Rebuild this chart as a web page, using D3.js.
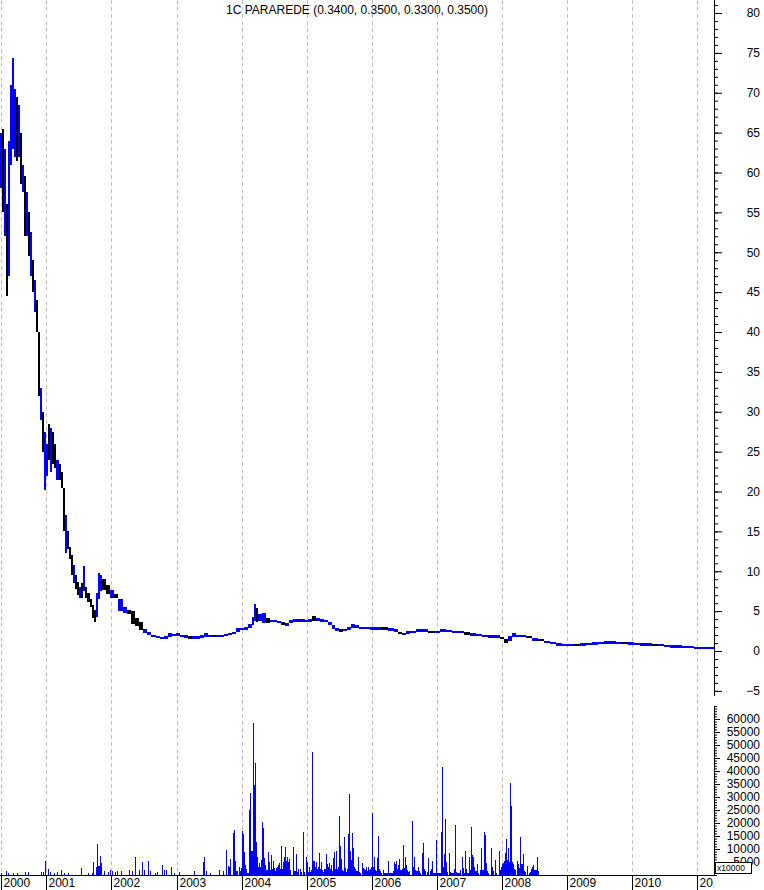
<!DOCTYPE html>
<html><head><meta charset="utf-8">
<script src="https://cdn.jsdelivr.net/npm/d3@7"></script>
<style>
body{margin:0;background:#fff}
svg{display:block}
text{font-family:"Liberation Sans",Arial,sans-serif;font-size:12px;fill:#000}
</style>
</head><body><svg id="c" width="764" height="890"></svg>
<script>
// ---------------- DATA ----------------
const title = "1C PARAREDE (0.3400, 0.3500, 0.3300, 0.3500)";
// price: [decimal year, high, low, up(1)/down(0)]
const price = [
[2000.288,65,58,1],[2000.318,65.5,55,0],[2000.349,63,52,1],[2000.380,56,44.5,0],[2000.411,64,47,1],
[2000.442,71,61,1],[2000.472,74.3,63,1],[2000.503,70.5,62,1],[2000.534,69.5,61.5,0],[2000.565,68.5,62,1],
[2000.595,65,58.5,0],[2000.626,61,57.5,1],[2000.657,59.5,52,0],[2000.688,57.5,52,1],[2000.718,55,49.5,0],
[2000.749,52.5,47,1],[2000.780,49,45,0],[2000.811,46.5,42.5,1],[2000.842,44,40,0],[2000.872,40,32,0],
[2000.903,33,29,1],[2000.934,30,25,0],[2000.965,27.5,20.2,1],[2000.995,26,22,1],[2001.027,28.5,24,0],
[2001.059,28,22.5,1],[2001.090,27.5,23.5,0],[2001.122,26,23,0],[2001.154,24,21.5,1],[2001.186,23.5,21.5,0],
[2001.217,22.5,20.5,0],[2001.249,20.5,15,0],[2001.281,17,12.3,1],[2001.313,15,12.8,0],[2001.344,13,11.5,0],
[2001.376,12,9.5,0],[2001.408,10.8,8.5,1],[2001.440,9.5,7.8,0],[2001.471,8.7,7,0],[2001.503,8,6.6,1],
[2001.535,8.5,6.6,0],[2001.567,10.6,7.5,1],[2001.598,8,6.6,0],[2001.630,7.3,6.2,0],[2001.662,6.5,5.5,0],
[2001.694,5.8,4.2,0],[2001.725,5.2,3.6,0],[2001.757,7.3,4.3,1],[2001.789,9.8,6.5,1],[2001.821,9.5,7.5,1],
[2001.852,9,7.6,0],[2001.916,8.3,7.2,0],[2001.979,7.6,6.6,1],[2002.043,7.2,6.6,0],[2002.106,6.5,5.0,1],
[2002.170,5.5,4.8,1],[2002.233,5.2,4.6,0],[2002.297,5.0,3.4,0],[2002.360,4.1,3.1,0],[2002.424,3.6,2.6,0],
[2002.487,2.8,2.2,1],[2002.551,2.4,2.0,1],[2002.614,2.0,1.7,1],[2002.678,1.9,1.6,1],[2002.741,1.8,1.5,1],
[2002.805,1.9,1.5,1],[2002.868,2.2,1.8,1],[2002.932,2.1,1.9,1],[2002.995,2.2,1.9,1],[2003.057,2.0,1.8,1],
[2003.118,1.9,1.7,1],[2003.180,1.8,1.6,0],[2003.242,1.8,1.6,1],[2003.303,1.8,1.6,1],[2003.365,1.9,1.7,1],
[2003.426,2.3,1.8,1],[2003.488,2.0,1.8,1],[2003.549,2.0,1.8,0],[2003.611,2.0,1.8,1],[2003.672,2.0,1.8,1],
[2003.734,2.1,1.9,1],[2003.795,2.3,2.0,1],[2003.857,2.4,2.1,1],[2003.918,2.9,2.4,1],[2003.980,2.9,2.6,1],
[2004.040,3.0,2.6,1],[2004.100,3.4,2.9,1],[2004.160,4.3,3.3,1],[2004.190,5.9,3.8,1],[2004.219,5.4,3.6,0],
[2004.249,4.7,3.8,1],[2004.309,4.8,3.5,1],[2004.369,4.2,3.5,0],[2004.428,3.9,3.6,1],[2004.488,3.9,3.6,1],
[2004.548,3.8,3.5,1],[2004.607,3.6,3.2,0],[2004.667,3.5,3.1,1],[2004.727,3.9,3.5,1],[2004.787,4.0,3.7,1],
[2004.846,4.0,3.7,1],[2004.906,4.0,3.7,1],[2004.966,3.9,3.6,1],[2005.025,4.0,3.6,1],[2005.085,4.4,3.8,0],
[2005.144,4.2,3.8,1],[2005.203,4.0,3.7,1],[2005.263,3.9,3.6,1],[2005.322,3.6,3.2,1],[2005.381,3.3,2.8,1],
[2005.441,2.9,2.5,1],[2005.500,2.8,2.4,0],[2005.559,2.8,2.5,1],[2005.619,3.0,2.7,1],[2005.678,3.4,2.9,1],
[2005.737,3.2,2.9,1],[2005.797,3.0,2.8,1],[2005.886,3.0,2.8,1],[2005.975,2.9,2.7,1],[2006.066,2.9,2.7,1],
[2006.158,2.9,2.7,0],[2006.251,2.8,2.6,1],[2006.343,2.7,2.4,1],[2006.405,2.4,2.1,0],[2006.466,2.3,2.0,1],
[2006.528,2.4,2.2,1],[2006.589,2.5,2.3,1],[2006.682,2.7,2.4,1],[2006.774,2.7,2.5,1],[2006.866,2.5,2.3,0],
[2006.958,2.5,2.3,1],[2007.050,2.7,2.4,1],[2007.142,2.6,2.4,1],[2007.233,2.5,2.3,1],[2007.325,2.5,2.3,1],
[2007.416,2.3,2.1,0],[2007.508,2.2,2.0,1],[2007.599,2.1,1.9,1],[2007.691,2.0,1.8,1],[2007.782,1.9,1.7,1],
[2007.873,1.9,1.7,1],[2007.965,1.7,1.5,0],[2008.026,1.5,1.0,0],[2008.089,1.9,1.3,1],[2008.151,2.3,1.7,1],
[2008.213,2.0,1.7,1],[2008.275,2.0,1.7,1],[2008.368,1.9,1.6,0],[2008.461,1.6,1.3,1],[2008.554,1.5,1.2,0],
[2008.648,1.3,1.0,1],[2008.741,1.1,0.85,1],[2008.834,0.9,0.7,1],[2008.927,0.85,0.65,1],[2009.020,0.85,0.65,1],
[2009.111,0.85,0.65,0],[2009.203,0.9,0.7,1],[2009.294,0.95,0.75,1],[2009.386,1.05,0.85,1],[2009.477,1.1,0.9,1],
[2009.569,1.15,0.95,1],[2009.660,1.15,0.95,1],[2009.752,1.1,0.9,1],[2009.843,1.1,0.9,0],[2009.934,1.0,0.85,1],
[2010.026,0.95,0.8,1],[2010.118,0.9,0.75,1],[2010.211,0.9,0.75,1],[2010.303,0.85,0.7,0],[2010.395,0.8,0.65,1],
[2010.488,0.7,0.55,1],[2010.580,0.65,0.5,1],[2010.672,0.65,0.5,1],[2010.765,0.6,0.45,1],[2010.857,0.55,0.4,1],
[2010.949,0.45,0.3,1],[2011.042,0.42,0.3,1],[2011.134,0.4,0.3,1],[2011.226,0.36,0.33,1]
];
const lastDate = 2011.257;
// volume: [decimal year, volume (x10000)]
const volume = [
[2000.318,800],[2000.395,1500],[2000.425,800],[2000.502,600],[2000.563,600],[2000.672,1200],[2000.718,1200],[2000.918,1000],[2000.949,1000],[2000.980,5400],
[2001.027,2300],[2001.059,1000],[2001.122,800],[2001.170,1000],[2001.233,1900],[2001.281,800],[2001.344,600],[2001.535,2700],[2001.646,800],[2001.710,800],
[2001.725,5100],[2001.773,3200],[2001.789,11900],[2001.805,3500],[2001.821,3500],[2001.837,7400],[2001.852,4600],[2001.900,1500],[2001.948,1000],[2001.979,1900],
[2002.011,1500],[2002.059,1000],[2002.090,1500],[2002.154,1700],[2002.281,2000],[2002.329,1500],[2002.376,7000],[2002.424,2000],[2002.471,5100],[2002.503,2000],
[2002.567,5400],[2002.598,1500],[2002.678,800],[2002.710,1200],[2002.789,3800],[2002.821,2000],[2002.852,2000],[2002.916,3200],[2002.964,800],
[2003.042,1000],[2003.272,1500],[2003.411,5000],[2003.426,7000],[2003.457,1500],[2003.518,800],[2003.657,1900],[2003.718,1500],[2003.765,9600],[2003.795,3500],
[2003.811,3200],[2003.826,6100],[2003.872,16300],[2003.888,17300],[2003.903,5400],[2003.918,1500],[2003.934,1500],[2003.965,3200],[2003.980,1500],[2003.995,2700],
[2004.010,16900],[2004.025,15900],[2004.040,9000],[2004.055,3800],[2004.070,2300],[2004.085,700],[2004.100,700],[2004.115,25000],[2004.130,31400],[2004.145,9200],
[2004.160,9200],[2004.175,58300],[2004.190,55800],[2004.204,34600],[2004.219,43000],[2004.234,12800],[2004.249,7000],[2004.264,3200],[2004.279,4500],[2004.294,3200],
[2004.309,5800],[2004.324,20500],[2004.339,17900],[2004.354,6700],[2004.369,3800],[2004.384,1900],[2004.399,1900],[2004.413,9000],[2004.428,5100],[2004.443,1900],
[2004.458,7700],[2004.473,2300],[2004.488,5400],[2004.503,2800],[2004.518,1500],[2004.533,2800],[2004.548,3200],[2004.563,3800],[2004.578,4500],[2004.593,2300],
[2004.607,11200],[2004.622,2300],[2004.637,5100],[2004.652,7000],[2004.667,10900],[2004.682,5400],[2004.697,7000],[2004.712,5100],[2004.727,2300],[2004.742,6100],
[2004.757,1900],[2004.801,10900],[2004.816,1500],[2004.831,1500],[2004.846,8200],[2004.861,1300],[2004.876,2300],[2004.906,2300],[2004.921,1300],[2004.951,16700],
[2004.966,1300],[2004.995,7000],
[2005.010,5100],[2005.025,1300],[2005.040,3200],[2005.055,1300],[2005.070,1900],[2005.085,47400],[2005.099,5500],[2005.114,5400],[2005.129,3200],[2005.144,5100],
[2005.159,2300],[2005.174,3200],[2005.188,8600],[2005.203,2300],[2005.233,5100],[2005.248,1900],[2005.263,1300],[2005.278,2300],[2005.292,2300],[2005.307,8000],
[2005.322,4200],[2005.337,3200],[2005.352,4700],[2005.367,2300],[2005.381,3800],[2005.396,1500],[2005.411,6400],[2005.426,9000],[2005.441,2300],[2005.456,9200],
[2005.470,2300],[2005.485,3200],[2005.500,22800],[2005.515,11200],[2005.530,6100],[2005.545,1900],[2005.559,1500],[2005.574,14500],[2005.589,2800],[2005.604,1300],
[2005.619,2300],[2005.634,2300],[2005.648,15900],[2005.663,31100],[2005.678,9200],[2005.693,5800],[2005.708,16300],[2005.723,10500],[2005.737,3200],[2005.752,2200],
[2005.767,1500],[2005.782,1500],[2005.797,6800],[2005.812,1300],[2005.826,800],[2005.856,4700],[2005.871,2800],[2005.886,2300],[2005.901,1900],[2005.915,2900],
[2005.930,1500],[2005.945,3200],[2005.960,1900],[2005.975,2300],[2005.990,3200],
[2006.005,24000],[2006.020,3200],[2006.035,7000],[2006.051,1900],[2006.066,1500],[2006.082,6700],[2006.097,15100],[2006.112,2300],[2006.128,1500],[2006.143,800],
[2006.174,1900],[2006.189,800],[2006.205,800],[2006.220,800],[2006.235,800],[2006.251,5500],[2006.266,800],[2006.282,800],[2006.297,800],[2006.312,800],
[2006.328,1500],[2006.343,5100],[2006.358,4200],[2006.374,5500],[2006.389,2300],[2006.405,3800],[2006.420,6100],[2006.435,1900],[2006.451,1900],[2006.466,2300],
[2006.482,11500],[2006.497,2800],[2006.512,7000],[2006.528,3800],[2006.543,1900],[2006.558,1300],[2006.574,1500],[2006.620,20800],[2006.635,3200],[2006.651,6800],
[2006.666,1900],[2006.682,1500],[2006.697,1500],[2006.712,3200],[2006.728,1500],[2006.743,800],[2006.774,8600],[2006.789,12200],[2006.805,2300],[2006.820,1500],
[2006.851,1300],[2006.866,6400],[2006.897,1500],[2006.912,2300],[2006.928,5500],[2006.943,700],[2006.958,700],[2006.974,700],[2006.989,13500],
[2007.005,700],[2007.020,700],[2007.035,700],[2007.050,700],[2007.066,16700],[2007.081,41600],[2007.096,3200],[2007.111,8000],[2007.127,21400],[2007.142,5100],
[2007.157,1000],[2007.188,8300],[2007.203,1000],[2007.218,700],[2007.233,700],[2007.249,700],[2007.264,2300],[2007.279,19200],[2007.294,1300],[2007.309,800],
[2007.325,800],[2007.340,800],[2007.355,800],[2007.370,1900],[2007.386,7000],[2007.401,1900],[2007.416,2800],[2007.431,800],[2007.447,9400],[2007.462,2200],
[2007.477,800],[2007.492,800],[2007.508,7000],[2007.523,1900],[2007.538,18600],[2007.553,7700],[2007.569,7000],[2007.584,3200],[2007.599,1500],[2007.614,1500],
[2007.630,4300],[2007.645,800],[2007.675,1900],[2007.691,10500],[2007.706,1900],[2007.721,1900],[2007.736,16700],[2007.752,15400],[2007.767,4700],[2007.782,1500],
[2007.797,800],[2007.843,10200],[2007.858,3200],[2007.873,1500],[2007.904,5900],[2007.919,800],[2007.965,9400],[2007.980,1900],[2007.995,3200],
[2008.011,4200],[2008.026,4500],[2008.042,5500],[2008.057,8600],[2008.073,13800],[2008.089,5800],[2008.104,10200],[2008.120,5100],[2008.135,35300],[2008.151,26700],
[2008.166,5100],[2008.182,4300],[2008.197,2300],[2008.213,1900],[2008.244,5500],[2008.259,4300],[2008.275,2800],[2008.290,14800],[2008.306,4300],[2008.321,4300],
[2008.337,7900],[2008.352,1500],[2008.368,1000],[2008.399,3500],[2008.415,800],[2008.430,1300],[2008.446,2300],[2008.461,3200],[2008.477,3800],[2008.492,1900],
[2008.508,1900],[2008.523,1900],[2008.539,7000],[2008.554,1500]
];
const yearTicks = [2001,2002,2003,2004,2005,2006,2007,2008,2009,2010,2011];
const priceTickLabels = [-5,0,5,10,15,20,25,30,35,40,45,50,55,60,65,70,75,80];
const volTickLabels = [5000,10000,15000,20000,25000,30000,35000,40000,45000,50000,55000,60000];
const volUnit = "x10000";

// ---------------- RENDER ----------------
const plotR = 714;
const yd = t => { const y = Math.floor(t), s = new Date(y,0,1), e = new Date(y+1,0,1); return new Date(+s + (t-y)*(e-s)); };
const x = d3.scaleTime().domain([yd(price[0][0]), yd(lastDate)]).range([0, plotR]);
const yP = d3.scaleLinear().domain([0,80]).range([651,13]);
const yV = d3.scaleLinear().domain([0,60000]).range([875,719]);
const svg = d3.select('#c');
svg.append('rect').attr('width',764).attr('height',890).attr('fill','#fff');
const px = d => Math.max(1, Math.round(x(d))) + 0.5;

// grid
const gridDates = [yd(price[0][0]), ...yearTicks.map(y => new Date(y,0,1))];
svg.append('g').selectAll('line').data(gridDates).join('line')
  .attr('x1', px).attr('x2', px)
  .attr('y1', 0).attr('y2', 875)
  .attr('stroke', '#c0c0c0').attr('stroke-dasharray', '4,3');

// volume bars
svg.append('g').attr('shape-rendering','crispEdges').selectAll('rect').data(volume).join('rect')
  .attr('x', d => Math.floor(x(yd(d[0]))))
  .attr('width', 1)
  .attr('y', d => yV(d[1]))
  .attr('height', d => 875 - yV(d[1]))
  .attr('fill', '#0000ff');

// price bars
const pd = price.map((d,i) => {
  const x0 = x(yd(d[0]));
  const x1 = x(yd(i < price.length-1 ? price[i+1][0] : lastDate));
  let y0 = yP(d[1]), h = yP(d[2]) - yP(d[1]);
  if (h < 2.5) { y0 -= (2.5 - h)/2; h = 2.5; }
  return {x0, w: Math.max(1, x1 - x0), y0, h, up: d[3]};
});
svg.append('g').attr('shape-rendering','crispEdges').selectAll('rect').data(pd).join('rect')
  .attr('x', d => d.x0).attr('width', d => d.w)
  .attr('y', d => d.y0).attr('height', d => d.h)
  .attr('fill', d => d.up ? '#0000ff' : '#000000');

// price axis (right)
const gP = svg.append('g').attr('transform', `translate(${plotR},0)`);
gP.append('line').attr('x1',0.5).attr('x2',0.5).attr('y1',0).attr('y2',696).attr('stroke','#000');
gP.append('g').call(d3.axisRight(yP).tickValues(d3.range(-5,82)).tickSize(4).tickFormat(''))
  .call(a => a.select('.domain').remove());
gP.append('g').call(d3.axisRight(yP).tickValues(priceTickLabels).tickSize(8))
  .call(a => {
    a.select('.domain').remove();
    a.attr('font-size',null).attr('font-family',null);
    a.selectAll('text').attr('text-anchor','end').attr('x',46);
  });

// volume axis
const gV = svg.append('g').attr('transform', `translate(${plotR},0)`);
gV.append('line').attr('x1',0.5).attr('x2',0.5).attr('y1',706).attr('y2',875).attr('stroke','#000');
gV.append('g').call(d3.axisRight(yV).tickValues(d3.range(0,65001,1000)).tickSize(3).tickFormat(''))
  .call(a => a.select('.domain').remove());
gV.append('g').call(d3.axisRight(yV).tickValues(volTickLabels).tickSize(6).tickFormat(d3.format('d')))
  .call(a => {
    a.select('.domain').remove();
    a.attr('font-size',null).attr('font-family',null);
    a.selectAll('text').attr('text-anchor','end').attr('x',46);
  });
gV.append('rect').attr('x',1.5).attr('y',862.5).attr('width',36).attr('height',11).attr('fill','#fff').attr('stroke','#000');
gV.append('text').attr('x',3).attr('y',871).style('font-size','8.5px').text(volUnit);

// x axis
svg.append('clipPath').attr('id','xc').append('rect').attr('x',-1).attr('y',-5).attr('width',plotR+1).attr('height',25);
const gX = svg.append('g').attr('transform','translate(0,875)').attr('clip-path','url(#xc)');
gX.call(d3.axisBottom(x).tickValues(gridDates).tickSize(15).tickSizeOuter(0).tickFormat(d3.timeFormat('%Y')))
  .call(a => {
    a.attr('font-size',null).attr('font-family',null);
    a.selectAll('.tick').attr('transform', d => `translate(${px(d)},0)`);
    a.selectAll('.tick line').attr('stroke','#000');
    a.selectAll('text').attr('text-anchor','start').attr('x',2).attr('y',12).attr('dy',null);
  });
gX.select('.domain').attr('d', `M0,0.5H${plotR}`).attr('stroke','#000');

// title
svg.append('text').attr('x',357).attr('y',14).attr('text-anchor','middle').text(title);
</script>
</body></html>
